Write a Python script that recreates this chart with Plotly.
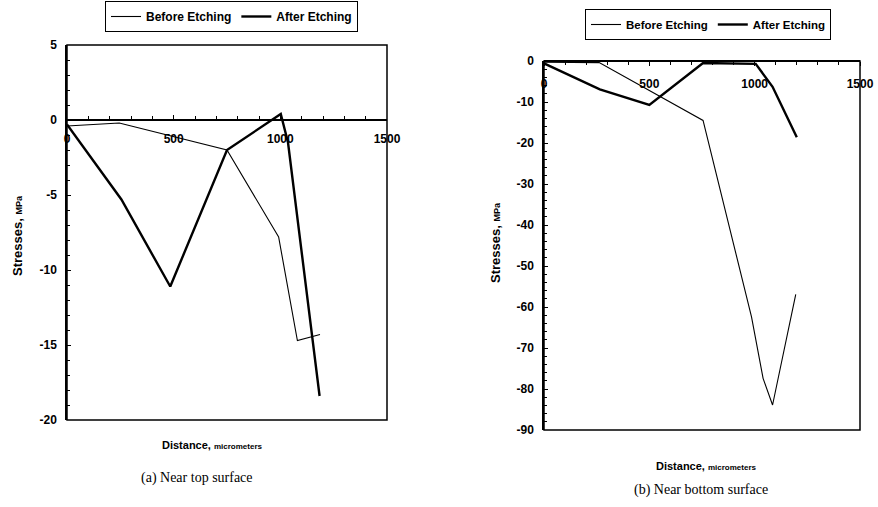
import plotly.graph_objects as go

# ---------------- data ----------------
# (a) Near top surface
a_before_x = [0, 245, 750, 992, 1080, 1186]
a_before_y = [-0.4, -0.2, -2.0, -7.8, -14.7, -14.3]
a_after_x = [0, 255, 484, 750, 1002, 1036, 1184]
a_after_y = [-0.3, -5.3, -11.1, -2.0, 0.4, -1.5, -18.4]

# (b) Near bottom surface
b_before_x = [0, 262, 755, 985, 1040, 1085, 1195]
b_before_y = [-0.3, -0.4, -14.5, -62.4, -77.4, -83.9, -56.9]
b_after_x = [0, 265, 500, 755, 1005, 1085, 1200]
b_after_y = [-0.6, -6.9, -10.7, -0.5, -0.7, -6.3, -18.6]

x_ticks = [0, 500, 1000, 1500]
a_y_ticks = [5, 0, -5, -10, -15, -20]
b_y_ticks = [0, -10, -20, -30, -40, -50, -60, -70, -80, -90]

W, H = 878, 507
FONT = "Liberation Sans"
SERIF = "Liberation Serif"

def px_x(p):
    return p / W

def px_y(p):
    return 1 - p / H

fig = go.Figure()

thin = dict(color="black", width=1.1)
thick = dict(color="black", width=2.4)

fig.add_trace(go.Scatter(x=a_before_x, y=a_before_y, mode="lines", line=thin,
                         name="Before Etching", xaxis="x", yaxis="y", legend="legend"))
fig.add_trace(go.Scatter(x=a_after_x, y=a_after_y, mode="lines", line=thick,
                         name="After Etching", xaxis="x", yaxis="y", legend="legend"))
fig.add_trace(go.Scatter(x=b_before_x, y=b_before_y, mode="lines", line=thin,
                         name="Before Etching", xaxis="x2", yaxis="y2", legend="legend2"))
fig.add_trace(go.Scatter(x=b_after_x, y=b_after_y, mode="lines", line=thick,
                         name="After Etching", xaxis="x2", yaxis="y2", legend="legend2"))

# domains (pixels)
a_l, a_r, a_t, a_b = 67, 387, 45, 420
b_l, b_r, b_t, b_b = 544, 860, 61, 430

tickfont = dict(family=FONT, size=12, color="black", weight="bold")

def xaxis_cfg(domain, pos, ticks_dir):
    return dict(domain=domain, range=[0, 1500], tickvals=x_ticks,
                ticktext=[str(v) for v in x_ticks],
                anchor="free", position=pos,
                showline=True, linecolor="black", linewidth=2,
                ticks=ticks_dir, ticklen=4, tickcolor="black",
                minor=dict(dtick=100, ticks=ticks_dir, ticklen=3, tickcolor="black"),
                showgrid=False, zeroline=False, tickfont=tickfont,
                ticklabelstandoff=8, automargin=False, fixedrange=True)

def yaxis_cfg(domain, rng, vals, minor_dt, anchor):
    return dict(domain=domain, range=rng, tickvals=vals,
                ticktext=[str(v) for v in vals],
                anchor=anchor, showline=True, linecolor="black", linewidth=1.5,
                ticks="inside", ticklen=4, tickcolor="black",
                minor=dict(dtick=minor_dt, ticks="inside", ticklen=3, tickcolor="black"),
                showgrid=False, zeroline=False, tickfont=tickfont,
                ticklabelstandoff=6, automargin=False, fixedrange=True)

a_zero_pix = a_t + (a_b - a_t) * 5 / 25

legfont = dict(family=FONT, size=12, color="black", weight="bold")
legfont2 = dict(family=FONT, size=11.5, color="black", weight="bold")

fig.update_layout(
    width=W, height=H,
    margin=dict(l=0, r=0, t=0, b=0, autoexpand=False),
    paper_bgcolor="white", plot_bgcolor="white",
    showlegend=True,
    xaxis=xaxis_cfg([px_x(a_l), px_x(a_r)], px_y(a_zero_pix), "inside"),
    yaxis=yaxis_cfg([px_y(a_b), px_y(a_t)], [-20, 5], a_y_ticks, 1, "x"),
    xaxis2=xaxis_cfg([px_x(b_l), px_x(b_r)], px_y(b_t), "outside"),
    yaxis2=yaxis_cfg([px_y(b_b), px_y(b_t)], [-90, 0], b_y_ticks, 2, "x2"),
    legend=dict(x=px_x(105), y=px_y(1), xanchor="left", yanchor="top",
                orientation="h", bordercolor="black", borderwidth=1,
                bgcolor="white", font=legfont, itemwidth=30, tracegroupgap=0),
    legend2=dict(x=px_x(585), y=px_y(9), xanchor="left", yanchor="top",
                 orientation="h", bordercolor="black", borderwidth=1,
                 bgcolor="white", font=legfont2, itemwidth=30, tracegroupgap=0),
)

# frames
for xr, yr in (("x", "y"), ("x2", "y2")):
    fig.add_shape(type="rect", xref=f"{xr} domain", yref=f"{yr} domain",
                  x0=0, x1=1, y0=0, y1=1, line=dict(color="black", width=1.5),
                  layer="above")

ytitle = "Stresses, <span style='font-size:9px'>MPa</span>"
xtitle = "Distance, <span style='font-size:8px'>micrometers</span>"

ann = [
    dict(x=px_x(18), y=px_y(236), text=ytitle, textangle=-90, size=13, fam=FONT, bold=True),
    dict(x=px_x(495), y=px_y(243), text=ytitle, textangle=-90, size=13, fam=FONT, bold=True),
    dict(x=px_x(212), y=px_y(445), text=xtitle, textangle=0, size=11, fam=FONT, bold=True),
    dict(x=px_x(706), y=px_y(466), text=xtitle, textangle=0, size=11, fam=FONT, bold=True),
    dict(x=px_x(197), y=px_y(478), text="(a) Near top surface", textangle=0, size=14, fam=SERIF, bold=False),
    dict(x=px_x(701), y=px_y(490), text="(b) Near bottom surface", textangle=0, size=14, fam=SERIF, bold=False),
]
for a in ann:
    txt = f"<b>{a['text']}</b>" if a["bold"] else a["text"]
    fig.add_annotation(x=a["x"], y=a["y"], xref="paper", yref="paper", text=txt,
                       showarrow=False, textangle=a["textangle"],
                       font=dict(family=a["fam"], size=a["size"], color="black"),
                       xanchor="center", yanchor="middle")

fig.write_html("out.html", config={"displayModeBar": False},
               post_script="document.body.style.margin='0';document.body.style.overflow='hidden';")
